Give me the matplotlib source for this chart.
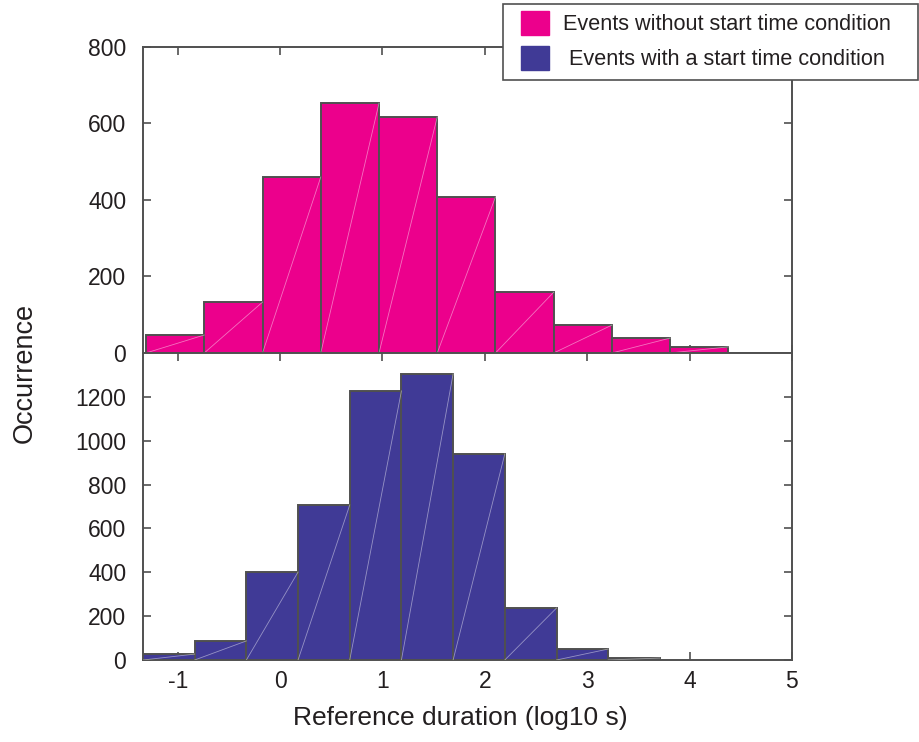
import numpy as np
import matplotlib
matplotlib.use("Agg")
import matplotlib.pyplot as plt
from matplotlib.patches import Patch, Rectangle

plt.rcParams['font.family'] = ['Liberation Sans', 'DejaVu Sans']
plt.rcParams['axes.unicode_minus'] = False

# histogram counts, log10 of reference duration in seconds
counts_no_start = [47, 133, 460, 653, 617, 408, 159, 73, 39, 16]
counts_start = [27, 87, 401, 707, 1227, 1305, 940, 237, 50, 9]

# bin edges (log10 s) for each group
edges_no_start = np.linspace(-1.31, 4.38, 11)
edges_start = np.linspace(-1.34, 3.71, 11)

pink = '#EC008C'
blue = '#403A96'
edge = '#505050'
txt = '#231F20'

fig = plt.figure(figsize=(9.2, 7.42), dpi=100)
ax1 = fig.add_axes([0.1554, 0.5243, 0.7054, 0.4124])
ax2 = fig.add_axes([0.1554, 0.1105, 0.7054, 0.4138], sharex=ax1)


def draw_hist(ax, edges, counts, color):
    w = np.diff(edges)
    ax.bar(edges[:-1], counts, width=w, align='edge', color=color,
           edgecolor=edge, linewidth=1.4, zorder=2)
    # faint diagonal seams across each bar
    for x0, x1, c in zip(edges[:-1], edges[1:], counts):
        ax.plot([x0, x1], [0, c], color='white', lw=0.6, alpha=0.45, zorder=3)


draw_hist(ax1, edges_no_start, counts_no_start, pink)
draw_hist(ax2, edges_start, counts_start, blue)

ax1.set_ylim(0, 800)
ax1.set_yticks([0, 200, 400, 600, 800])
ax2.set_ylim(0, 1400)
ax2.set_yticks([0, 200, 400, 600, 800, 1000, 1200])
ax2.set_xlim(-1.34, 5)
ax2.set_xticks([-1, 0, 1, 2, 3, 4, 5])
plt.setp(ax1.get_xticklabels(), visible=False)

for ax in (ax1, ax2):
    for s in ax.spines.values():
        s.set_color(edge)
        s.set_linewidth(1.4)
    ax.tick_params(direction='in', length=6, width=1.2, color=edge,
                   top=True, right=True, labelsize=16.5, labelcolor=txt)
    ax.tick_params(axis='y', pad=12)
    ax.tick_params(axis='x', pad=7)

fig.text(0.027, 0.497, 'Occurrence', rotation=90, ha='center', va='center',
         fontsize=19.5, color=txt)
fig.text(0.5, 0.032, 'Reference duration (log10 s)', ha='center', va='center',
         fontsize=19, color=txt)

# legend box drawn separately so the padding can be uneven
fig.patches.append(Rectangle((0.5467, 0.8922), 0.4511, 0.1024,
                             transform=fig.transFigure, facecolor='white',
                             edgecolor=edge, linewidth=1.2, zorder=5))
handles = [Patch(facecolor=pink, edgecolor=pink),
           Patch(facecolor=blue, edgecolor=blue)]
leg = fig.legend(handles, ['Events without start time condition',
                           ' Events with a start time condition'],
                 loc='upper left', bbox_to_anchor=(0.5663, 0.9852),
                 fontsize=15.6, frameon=False,
                 handlelength=1.3, handleheight=1.32,
                 handletextpad=0.65, borderpad=0, labelspacing=0.5,
                 borderaxespad=0)
leg.set_zorder(6)
for t in leg.get_texts():
    t.set_color(txt)

fig.savefig('out.png', dpi=100)
